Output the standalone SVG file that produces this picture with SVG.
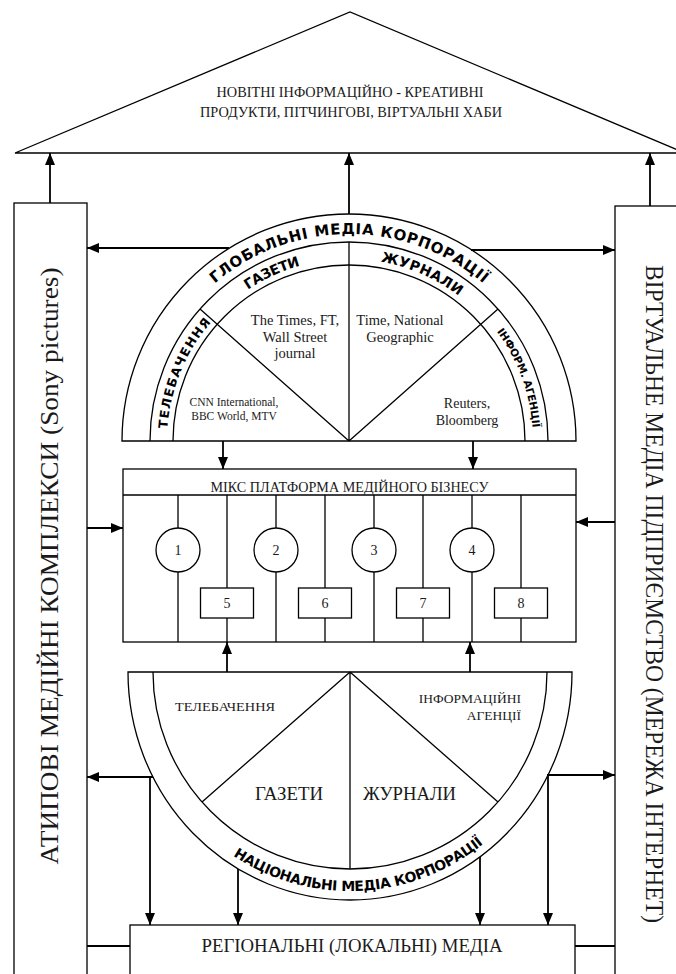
<svg xmlns="http://www.w3.org/2000/svg" width="676" height="974" viewBox="0 0 676 974">
<defs>
<marker id="ah" markerUnits="userSpaceOnUse" markerWidth="12" markerHeight="10" refX="12" refY="5" orient="auto"><path d="M0,0 L12,5 L0,10 Z" fill="#000"/></marker>
<path id="pGlob" d="M142,441 A207 207 0 0 1 556,441"/>
<path id="pBand" d="M167,441 A182 182 0 0 1 531,441"/>
<path id="pBandS" d="M165,441 A184 184 0 0 1 533,441"/>
<path id="pNat" d="M135,672 A215 219 0 0 0 565,672"/>
</defs>
<style>
.ln{stroke:#000;stroke-width:1.3;fill:none}
.bx{stroke:#000;stroke-width:1.3;fill:#fff}
.cn{stroke:#000;stroke-width:1.8;fill:none}
.ar{stroke:#000;stroke-width:1.8;fill:none;marker-end:url(#ah)}
.sf{font-family:"Liberation Serif","Times New Roman",serif;fill:#1a1a1a}
.bd{font-family:"DejaVu Sans","Liberation Sans",sans-serif;font-weight:bold;fill:#000}
</style>
<rect width="676" height="974" fill="#fff"/>

<g id="roof">
<polygon class="ln" points="15,153 350,12 685,153"/>
<text class="sf" x="350" y="97" font-size="14.5" text-anchor="middle" textLength="267" lengthAdjust="spacingAndGlyphs">НОВІТНІ ІНФОРМАЦІЙНО - КРЕАТИВНІ</text>
<text class="sf" x="351" y="117" font-size="14.5" text-anchor="middle" textLength="302" lengthAdjust="spacingAndGlyphs">ПРОДУКТИ, ПІТЧИНГОВІ, ВІРТУАЛЬНІ ХАБИ</text>
</g>

<g id="atypical">
<rect class="ln" x="14" y="203" width="73" height="790"/>
<text class="sf" transform="translate(58,566) rotate(-90)" font-size="26" text-anchor="middle" textLength="597" lengthAdjust="spacingAndGlyphs">АТИПОВІ МЕДІЙНІ КОМПЛЕКСИ (Sony pictures)</text>
</g>

<g id="virtual">
<rect class="ln" x="615" y="206" width="90" height="790"/>
<text class="sf" transform="translate(646,594) rotate(90)" font-size="25" text-anchor="middle" textLength="658" lengthAdjust="spacingAndGlyphs">ВІРТУАЛЬНЕ МЕДІА ПІДПРИЄМСТВО (МЕРЕЖА ІНТЕРНЕТ)</text>
</g>

<g id="global">
<path class="ln" d="M122,441 A227 227 0 0 1 576,441 Z"/>
<path class="ln" d="M150,441 A199 199 0 0 1 548,441"/>
<path class="ln" d="M173,441 A176 176 0 0 1 525,441"/>
<path class="ln" d="M349,441 L200,309 M349,441 L498,309 M349,441 L349,242"/>
<text class="bd" font-size="15"><textPath href="#pGlob" startOffset="50%" text-anchor="middle" textLength="292">ГЛОБАЛЬНІ МЕДІА КОРПОРАЦІЇ</textPath></text>
<text class="bd" font-size="14"><textPath href="#pBand" startOffset="36.3%" text-anchor="middle" textLength="58">ГАЗЕТИ</textPath></text>
<text class="bd" font-size="14"><textPath href="#pBand" startOffset="63.1%" text-anchor="middle" textLength="86">ЖУРНАЛИ</textPath></text>
<text class="bd" font-size="12.5"><textPath href="#pBand" startOffset="12.4%" text-anchor="middle" textLength="117">ТЕЛЕБАЧЕННЯ</textPath></text>
<text class="bd" font-size="10.5"><textPath href="#pBandS" startOffset="88.7%" text-anchor="middle" textLength="104">ІНФОРМ. АГЕНЦІЇ</textPath></text>
<text class="sf" font-size="14.5" text-anchor="middle"><tspan x="295" y="325">The Times, FT,</tspan><tspan x="295" y="342">Wall Street</tspan><tspan x="295" y="358">journal</tspan></text>
<text class="sf" font-size="14.5" text-anchor="middle"><tspan x="400" y="325">Time, National</tspan><tspan x="400" y="342">Geographic</tspan></text>
<text class="sf" font-size="11.5" text-anchor="middle"><tspan x="234" y="406">CNN International,</tspan><tspan x="234" y="420">BBC World, MTV</tspan></text>
<text class="sf" font-size="14" text-anchor="middle"><tspan x="467" y="408">Reuters,</tspan><tspan x="467" y="425">Bloomberg</tspan></text>
</g>

<g id="platform">
<rect class="ln" x="123" y="469" width="453" height="173"/>
<line class="ln" x1="123" y1="495" x2="576" y2="495"/>
<text class="sf" x="349.5" y="492" font-size="14" text-anchor="middle" textLength="278" lengthAdjust="spacingAndGlyphs">МІКС ПЛАТФОРМА МЕДІЙНОГО БІЗНЕСУ</text>
<path class="ln" d="M178,495 V528 M178,572 V642 M276,495 V528 M276,572 V642 M374,495 V528 M374,572 V642 M472,495 V528 M472,572 V642"/>
<path class="ln" d="M227,495 V588 M227,618 V642 M325,495 V588 M325,618 V642 M423,495 V588 M423,618 V642 M521,495 V588 M521,618 V642"/>
<circle class="ln" cx="178" cy="550" r="22"/>
<circle class="ln" cx="276" cy="550" r="22"/>
<circle class="ln" cx="374" cy="550" r="22"/>
<circle class="ln" cx="472" cy="550" r="22"/>
<rect class="ln" x="200.5" y="588" width="53" height="30"/>
<rect class="ln" x="298.5" y="588" width="53" height="30"/>
<rect class="ln" x="396.5" y="588" width="53" height="30"/>
<rect class="ln" x="494.5" y="588" width="53" height="30"/>
<g class="sf" font-size="14" text-anchor="middle">
<text x="178" y="555">1</text><text x="276" y="555">2</text><text x="374" y="555">3</text><text x="472" y="555">4</text>
<text x="227" y="608">5</text><text x="325" y="608">6</text><text x="423" y="608">7</text><text x="521" y="608">8</text>
</g>
</g>

<g id="national">
<path class="ln" d="M128,672 A222 228 0 0 0 572,672 Z"/>
<path class="ln" d="M153,672 A197 197 0 0 0 547,672"/>
<path class="ln" d="M350,672 L202,802 M350,672 L498,802 M350,672 L350,869"/>
<text class="sf" x="225" y="711" font-size="13.5" text-anchor="middle" textLength="100" lengthAdjust="spacingAndGlyphs">ТЕЛЕБАЧЕННЯ</text>
<text class="sf" font-size="13.5" text-anchor="end"><tspan x="521" y="703">ІНФОРМАЦІЙНІ</tspan><tspan x="521" y="720">АГЕНЦІЇ</tspan></text>
<text class="sf" x="289" y="800" font-size="19" text-anchor="middle" textLength="68" lengthAdjust="spacingAndGlyphs">ГАЗЕТИ</text>
<text class="sf" x="409.5" y="800" font-size="19" text-anchor="middle" textLength="93" lengthAdjust="spacingAndGlyphs">ЖУРНАЛИ</text>
<text class="bd" font-size="14"><textPath href="#pNat" startOffset="51.5%" text-anchor="middle" textLength="268">НАЦІОНАЛЬНІ МЕДІА КОРПОРАЦІЇ</textPath></text>
</g>

<g id="regional">
<rect class="bx" x="130" y="925" width="445" height="70"/>
<text class="sf" x="352" y="952" font-size="18" text-anchor="middle" textLength="301" lengthAdjust="spacingAndGlyphs">РЕГІОНАЛЬНІ (ЛОКАЛЬНІ) МЕДІА</text>
</g>

<g id="connectors">
<line class="ar" x1="50" y1="203" x2="50" y2="153"/>
<line class="ar" x1="349" y1="214" x2="349" y2="153"/>
<line class="ar" x1="650" y1="206" x2="650" y2="153"/>
<line class="ar" x1="229" y1="248" x2="87" y2="248"/>
<line class="ar" x1="471" y1="250" x2="615" y2="250"/>
<line class="ar" x1="223" y1="441" x2="223" y2="469"/>
<line class="ar" x1="473" y1="441" x2="473" y2="469"/>
<line class="ar" x1="87" y1="528" x2="123" y2="528"/>
<line class="ar" x1="615" y1="522" x2="576" y2="522"/>
<line class="ar" x1="227" y1="672" x2="227" y2="642"/>
<line class="ar" x1="470" y1="672" x2="470" y2="642"/>
<line class="ar" x1="153" y1="777" x2="87" y2="777"/>
<line class="ar" x1="150" y1="777" x2="150" y2="925"/>
<line class="ar" x1="547" y1="775" x2="615" y2="775"/>
<line class="ar" x1="548" y1="775" x2="548" y2="925"/>
<line class="ar" x1="238" y1="869" x2="238" y2="925"/>
<line class="ar" x1="480" y1="857" x2="480" y2="925"/>
<line class="cn" x1="87" y1="946" x2="130" y2="946"/>
<line class="cn" x1="575" y1="946" x2="615" y2="946"/>
</g>
</svg>
